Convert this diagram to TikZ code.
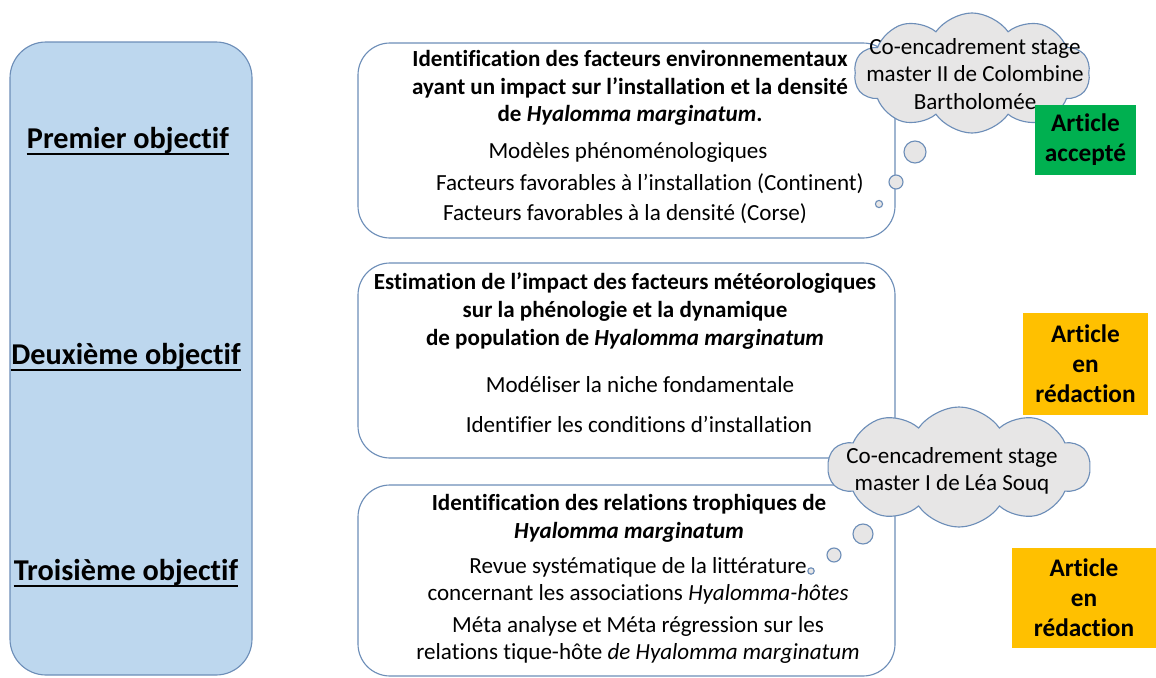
\documentclass[tikz,border=0pt]{standalone}
\usepackage{fontspec}
\setmainfont{Carlito}[Ligatures={TeX,NoCommon}]
\usetikzlibrary{shapes.symbols}
\definecolor{framecol}{RGB}{109,142,184}
\definecolor{leftfill}{RGB}{189,215,238}
\definecolor{cloudfill}{RGB}{231,230,230}
\definecolor{greenok}{RGB}{0,176,80}
\definecolor{orangeok}{RGB}{255,192,0}
\tikzset{
	objbox/.style={draw=framecol, fill=white, line width=0.8pt, rounded corners=0.8cm},
	objlabel/.style={inner sep=0pt, anchor=base, font=\fontsize{21.5}{25}\selectfont\bfseries},
	bodytext/.style={align=center, inner sep=0pt, font=\fontsize{16.4}{19.6}\selectfont},
	titletext/.style={bodytext, font=\fontsize{16.4}{19.8}\selectfont\bfseries},
	thought/.style={cloud, cloud puffs=10, cloud puff arc=110, draw=framecol, fill=cloudfill, line width=0.8pt},
	bubble/.style={circle, draw=framecol, fill=cloudfill, line width=0.8pt, inner sep=0pt},
	status/.style={align=center, inner sep=0pt, font=\fontsize{18}{21.4}\selectfont\bfseries}
}
\begin{document}
\begin{tikzpicture}[x=0.025cm, y=-0.025cm]
		%%%%% START %%%%%
		\useasboundingbox (0, 0) rectangle (1156, 677);
		
		\draw[draw=framecol, fill=leftfill, line width=0.8pt, rounded corners=0.9cm] (10, 42) rectangle (252, 675);
		\node[objlabel] (obj1) at (128, 148) {Premier objectif\ };
		\node[objlabel] (obj2) at (126, 364) {Deuxième objectif};
		\node[objlabel] (obj3) at (126, 580) {Troisième objectif};
		\foreach \o in {obj1, obj2, obj3}
			\draw[line width=1.3pt] ([yshift=-4pt]\o.base west) -- ([yshift=-4pt]\o.base east);
		
		\draw[objbox] (358, 43) rectangle (895, 238);
		\draw[objbox] (358, 263) rectangle (895, 458);
		\draw[objbox] (358, 485) rectangle (895, 676);
		
		\node[titletext] (t1) at (630, 88) {Identification des facteurs environnementaux\\ayant un impact sur l’installation et la densité\\de \textit{Hyalomma marginatum}.};
		\node[bodytext] (t1a) at (628, 152) {Modèles phénoménologiques};
		\node[bodytext] (t1b) at (650, 184) {Facteurs favorables à l’installation (Continent)};
		\node[bodytext] (t1c) at (625, 214) {Facteurs favorables à la densité (Corse)};
		
		\node[titletext] (t2) at (625, 311) {Estimation de l’impact des facteurs météorologiques\\sur la phénologie et la dynamique\\de population de \textit{Hyalomma marginatum}};
		\node[bodytext] (t2a) at (640, 385) {Modéliser la niche fondamentale};
		\node[bodytext] (t2b) at (639, 424) {Identifier les conditions d’installation};
		
		\node[titletext] (t3) at (629, 518) {Identification des relations trophiques de\\\textit{Hyalomma marginatum}};
		\node[bodytext] (t3a) at (638, 581) {Revue systématique de la littérature\\concernant les associations \textit{Hyalomma-hôtes}};
		\node[bodytext] (t3b) at (638, 640) {Méta analyse et Méta régression sur les\\relations tique-hôte \textit{de Hyalomma marginatum}};
		
		% bulles
		\node[thought, minimum width=5.9cm, minimum height=3cm] (cloudA) at (972, 73) {};
		\node[bubble, minimum size=0.55cm] (bubA1) at (915, 152) {};
		\node[bubble, minimum size=0.35cm] (bubA2) at (896, 182) {};
		\node[bubble, minimum size=0.18cm] (bubA3) at (879, 204) {};
		\node[bodytext] (cloudAtext) at (975, 74) {Co-encadrement stage\\master II de Colombine\\Bartholomée};
		
		\node[thought, minimum width=6.55cm, minimum height=3cm] (cloudB) at (959, 467) {};
		\node[bubble, minimum size=0.5cm] (bubB1) at (863, 534) {};
		\node[bubble, minimum size=0.35cm] (bubB2) at (834, 555) {};
		\node[bubble, minimum size=0.16cm] (bubB3) at (811, 571) {};
		\node[bodytext] (cloudBtext) at (952, 471) {Co-encadrement stage\\master I de Léa Souq};
		
		% articles
		\node[status, fill=greenok, minimum width=2.525cm, minimum height=1.75cm] (art1) at (1085.5, 140) {Article\\accepté};
		\node[status, fill=orangeok, minimum width=3.125cm, minimum height=2.55cm] (art2) at (1085.5, 364) {Article\\en\\rédaction};
		\node[status, fill=orangeok, minimum width=3.6cm, minimum height=2.5cm] (art3) at (1084, 598) {Article\\en\\rédaction};
		%%%%% END %%%%%
	\end{tikzpicture}
\end{document}
